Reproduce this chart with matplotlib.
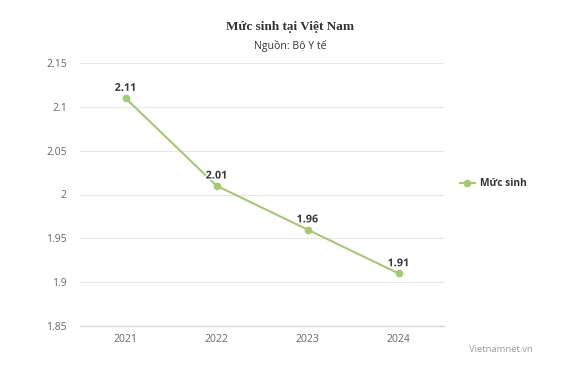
import matplotlib
matplotlib.use("Agg")
import matplotlib.pyplot as plt
import matplotlib.patheffects as pe

years = ["2021", "2022", "2023", "2024"]
values = [2.11, 2.01, 1.96, 1.91]
yticks = [1.85, 1.9, 1.95, 2.0, 2.05, 2.1, 2.15]
ytick_labels = ["1.85", "1.9", "1.95", "2", "2.05", "2.1", "2.15"]

line_color = "#a5c872"

fig = plt.figure(figsize=(5.8, 3.72), dpi=100)
fig.patch.set_facecolor("white")
W, H = 580, 372
l, r, t, b = 80, 444, 63, 326
ax = fig.add_axes([l / W, 1 - b / H, (r - l) / W, (b - t) / H])

x = list(range(len(years)))
ax.plot(x, values, color=line_color, lw=1.5, marker="o", ms=4.5, label="Mức sinh", zorder=3)
for xi, v in zip(x, values):
    ax.annotate(f"{v:.2f}", (xi, v), xytext=(0, 3), textcoords="offset points",
                ha="center", va="bottom", fontsize=7.8, fontweight="bold", color="#3a3a3a",
                family="Open Sans",
                path_effects=[pe.withStroke(linewidth=2.2, foreground="white")], zorder=4)

ax.set_xlim(-0.5, len(years) - 0.5)
ax.set_ylim(1.85, 2.15)
ax.set_yticks(yticks)
ax.set_yticklabels(ytick_labels)
ax.set_xticks(x)
ax.set_xticklabels(years)
ax.grid(axis="y", color="#e6e6e6", lw=0.8)
ax.set_axisbelow(True)
for s in ["top", "right", "left"]:
    ax.spines[s].set_visible(False)
ax.spines["bottom"].set_color("#d8d8d8")
ax.spines["bottom"].set_linewidth(1.0)
ax.tick_params(axis="both", length=0, labelsize=7.5, colors="#666666")
ax.tick_params(axis="x", pad=6)
ax.tick_params(axis="y", pad=9.5)
for lab in ax.get_xticklabels() + ax.get_yticklabels():
    lab.set_family("Open Sans")

fig.text(290 / W, 1 - 27 / H, "Mức sinh tại Việt Nam", ha="center", va="center",
         fontsize=9.5, fontweight="bold", family="Liberation Serif", color="#333333")
fig.text(290 / W, 1 - 46 / H, "Nguồn: Bộ Y tế", ha="center", va="center",
         fontsize=7.6, family="Open Sans", color="#333333")

leg = fig.legend(loc="center left", bbox_to_anchor=(451 / W, 1 - 184 / H), frameon=False,
                 prop={"family": "Open Sans", "weight": "bold", "size": 7.4},
                 handlelength=1.4, handletextpad=0.5, labelcolor="#333333")

fig.text(533 / W, 1 - 350 / H, "Vietnamnet.vn", ha="right", va="center",
         fontsize=6.8, family="Open Sans", color="#999999")

fig.savefig("out.png", dpi=100)
